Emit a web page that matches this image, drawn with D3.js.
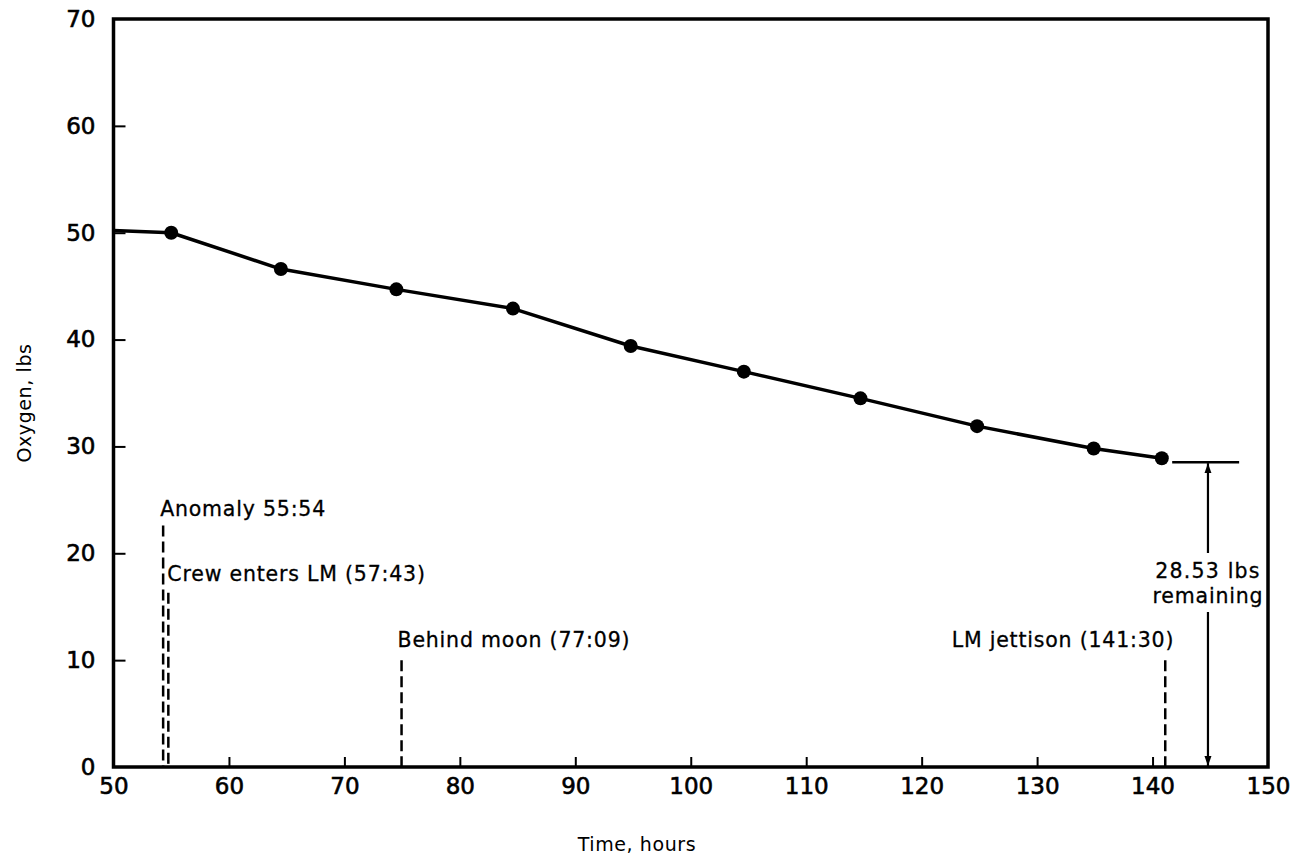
<!DOCTYPE html>
<html>
<head>
<meta charset="utf-8">
<script src="https://cdn.jsdelivr.net/npm/d3@7"></script>
<style>
  body { margin: 0; background: #fff; }
  text { font-family: "DejaVu Sans", sans-serif; fill: #000; }
</style>
</head>
<body>
<div id="chart"></div>
<script>
const svgWidth = 1293;
const svgHeight = 858;

// data
const hours = [55, 64.5, 74.5, 84.6, 94.8, 104.6, 114.7, 124.8, 134.9, 140.8];
const oxygen = [50.0, 46.6, 44.7, 42.9, 39.4, 37.0, 34.5, 31.9, 29.8, 28.9];
const holdHours = [50, 55];
const holdOxygen = [50.2, 50.0];

const xTicks = [50, 60, 70, 80, 90, 100, 110, 120, 130, 140, 150];
const yTicks = [0, 10, 20, 30, 40, 50, 60, 70];

const eventNames = ["Anomaly 55:54", "Crew enters LM (57:43)", "Behind moon (77:09)", "LM jettison (141:30)"];
const eventHours = [54.3, 54.75, 74.95, 141.1];

const remaining = 28.53;
const remainingHour = 144.8;

const svg = d3.select("#chart")
  .append("svg")
  .attr("width", svgWidth)
  .attr("height", svgHeight);

const x = d3.scaleLinear().domain([50, 150]).range([113.5, 1268]);
const y = d3.scaleLinear().domain([0, 70]).range([767, 19]);

// ticks + labels
const bottomAxis = d3.axisBottom(x).tickValues(xTicks).tickSizeInner(-10).tickSizeOuter(0).tickPadding(11);
const leftAxis = d3.axisLeft(y).tickValues(yTicks).tickSizeInner(-12).tickSizeOuter(0).tickPadding(18);

const xAxis = svg.append("g")
  .attr("transform", `translate(0, ${y(0)})`)
  .call(bottomAxis);
const yAxis = svg.append("g")
  .attr("transform", `translate(${x(50)}, 0)`)
  .call(leftAxis);

[xAxis, yAxis].forEach(g => {
  g.select(".domain").remove();
  g.selectAll("line").attr("stroke", "#000").attr("stroke-width", 2);
  g.selectAll("text")
    .style("font-size", "23px")
    .style("font-family", "DejaVu Sans")
    .attr("fill", "#000")
    .attr("stroke", "#000")
    .attr("stroke-width", 0.6);
});
xAxis.selectAll(".tick").filter(d => d === 50 || d === 150).select("line").remove();
yAxis.selectAll(".tick").filter(d => d === 0 || d === 70).select("line").remove();

// frame
svg.append("rect")
  .attr("x", x(50))
  .attr("y", y(70))
  .attr("width", x(150) - x(50))
  .attr("height", y(0) - y(70))
  .attr("fill", "none")
  .attr("stroke", "#000")
  .attr("stroke-width", 3.5);

// axis titles
svg.append("text")
  .attr("x", 637)
  .attr("y", 851)
  .attr("text-anchor", "middle")
  .style("font-size", "19px")
  .style("letter-spacing", "0.6px")
  .text("Time, hours");

svg.append("text")
  .attr("transform", `translate(31, 403) rotate(-90)`)
  .attr("text-anchor", "middle")
  .style("font-size", "19px")
  .style("letter-spacing", "0.6px")
  .text("Oxygen, lbs");

// oxygen curve
const line = d3.line().x(d => x(d[0])).y(d => y(d[1]));
const pts = hours.map((h, i) => [h, oxygen[i]]);
const hold = holdHours.map((h, i) => [h, holdOxygen[i]]);

svg.append("path")
  .datum(hold)
  .attr("d", line)
  .attr("fill", "none")
  .attr("stroke", "#000")
  .attr("stroke-width", 3.5);

svg.append("path")
  .datum(pts)
  .attr("d", line)
  .attr("fill", "none")
  .attr("stroke", "#000")
  .attr("stroke-width", 3.5)
  .attr("stroke-linejoin", "round");

svg.selectAll(".pt")
  .data(pts)
  .enter()
  .append("circle")
  .attr("cx", d => x(d[0]))
  .attr("cy", d => y(d[1]))
  .attr("r", 7)
  .attr("fill", "#000");

// event markers: top of dash and label position (in lbs)
const dashTop = [22.6, 16.3, 10, 10];
const labelY = [23.5, 17.4, 11.2, 11.2];
const labelDx = [-3, -1, -4, 9];
const anchors = ["start", "start", "start", "end"];

eventNames.forEach((name, i) => {
  svg.append("line")
    .attr("x1", x(eventHours[i]))
    .attr("x2", x(eventHours[i]))
    .attr("y1", y(dashTop[i]))
    .attr("y2", y(0))
    .attr("stroke", "#000")
    .attr("stroke-width", 2.5)
    .attr("stroke-dasharray", "11,5");

  svg.append("text")
    .attr("x", x(eventHours[i]) + labelDx[i])
    .attr("y", y(labelY[i]))
    .attr("text-anchor", anchors[i])
    .style("font-size", "20.5px")
    .style("letter-spacing", "0.8px")
    .attr("stroke", "#000")
    .attr("stroke-width", 0.3)
    .text(name);
});

// remaining oxygen dimension
svg.append("line")
  .attr("x1", x(141.7)).attr("x2", x(147.5))
  .attr("y1", y(remaining)).attr("y2", y(remaining))
  .attr("stroke", "#000").attr("stroke-width", 2.5);

const defs = svg.append("defs");
defs.append("marker")
  .attr("id", "arrow")
  .attr("viewBox", "0 0 10 10")
  .attr("refX", 10).attr("refY", 5)
  .attr("markerWidth", 10).attr("markerHeight", 12)
  .attr("markerUnits", "userSpaceOnUse")
  .attr("orient", "auto")
  .append("path")
  .attr("d", "M0,1.5 L10,5 L0,8.5 Z")
  .attr("fill", "#000");

const ax = x(remainingHour);
svg.append("line")
  .attr("x1", ax).attr("x2", ax)
  .attr("y1", 553).attr("y2", y(remaining) + 1)
  .attr("stroke", "#000").attr("stroke-width", 2.2)
  .attr("marker-end", "url(#arrow)");
svg.append("line")
  .attr("x1", ax).attr("x2", ax)
  .attr("y1", 612).attr("y2", y(0) - 1)
  .attr("stroke", "#000").attr("stroke-width", 2.2)
  .attr("marker-end", "url(#arrow)");

svg.append("text")
  .attr("x", ax)
  .attr("y", 578)
  .attr("text-anchor", "middle")
  .style("font-size", "20.5px")
  .style("letter-spacing", "1.2px")
  .attr("stroke", "#000")
  .attr("stroke-width", 0.3)
  .text(`${remaining} lbs`);
svg.append("text")
  .attr("x", ax)
  .attr("y", 603)
  .attr("text-anchor", "middle")
  .style("font-size", "20.5px")
  .style("letter-spacing", "0.8px")
  .attr("stroke", "#000")
  .attr("stroke-width", 0.3)
  .text("remaining");
</script>
</body>
</html>
